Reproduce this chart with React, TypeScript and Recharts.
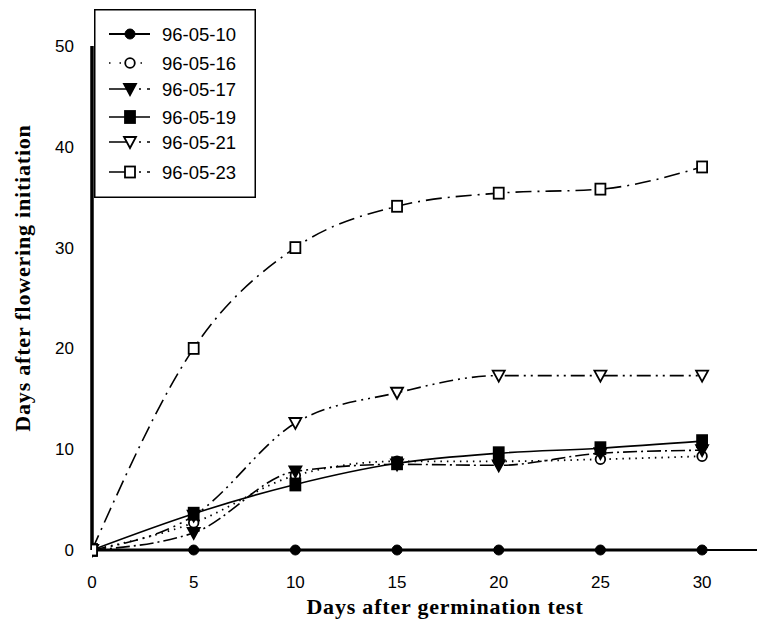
import { LineChart, Line, XAxis, YAxis, Legend, Label } from 'recharts';

// days after germination test (x) vs days after flowering initiation (y)
const days = [0, 5, 10, 15, 20, 25, 30];
const xTicks = [0, 5, 10, 15, 20, 25, 30];
const yTicks = [0, 10, 20, 30, 40, 50];

const s0510 = [0, 0, 0, 0, 0, 0, 0];
const s0516 = [0, 2.7, 7.4, 8.8, 8.8, 9.0, 9.3];
const s0517 = [0, 1.7, 7.8, 8.5, 8.4, 9.6, 9.9];
const s0519 = [0, 3.6, 6.5, 8.6, 9.6, 10.1, 10.8];
const s0521 = [0, 3.4, 12.6, 15.6, 17.3, 17.3, 17.3];
const s0523 = [0, 20.0, 30.0, 34.1, 35.4, 35.8, 38.0];

type Shape = 'circleFilled' | 'circleOpen' | 'triFilled' | 'squareFilled' | 'triOpen' | 'squareOpen';

const series: { key: string; name: string; values: number[]; shape: Shape; dash?: string; width: number }[] = [
  { key: 'a', name: '96-05-10', values: s0510, shape: 'circleFilled', width: 3 },
  { key: 'b', name: '96-05-16', values: s0516, shape: 'circleOpen', dash: '1.5 5', width: 1.8 },
  { key: 'c', name: '96-05-17', values: s0517, shape: 'triFilled', dash: '14 4 2 4', width: 1.6 },
  { key: 'd', name: '96-05-19', values: s0519, shape: 'squareFilled', width: 1.6 },
  { key: 'e', name: '96-05-21', values: s0521, shape: 'triOpen', dash: '14 5 2 5 2 5', width: 1.6 },
  { key: 'f', name: '96-05-23', values: s0523, shape: 'squareOpen', dash: '16 6 2 6', width: 1.6 },
];

// drawing order: the filled squares sit on top of the open triangles at day 5
const drawOrder = ['a', 'b', 'c', 'e', 'd', 'f'];

const data = days.map((d, i) => {
  const row: Record<string, number> = { day: d };
  series.forEach((s) => (row[s.key] = s.values[i]));
  return row;
});

function marker(shape: Shape, cx: number, cy: number) {
  const k = { stroke: '#000', strokeWidth: 1.8 };
  switch (shape) {
    case 'circleFilled':
      return <circle cx={cx} cy={cy} r={5} fill="#000" stroke="#000" />;
    case 'circleOpen':
      return <circle cx={cx} cy={cy} r={4.8} fill="#fff" {...k} />;
    case 'triFilled':
      return <path d={`M${cx - 6},${cy - 5} L${cx + 6},${cy - 5} L${cx},${cy + 6} Z`} fill="#000" {...k} />;
    case 'squareFilled':
      return <rect x={cx - 5} y={cy - 6} width={10} height={12} fill="#000" {...k} />;
    case 'triOpen':
      return <path d={`M${cx - 6},${cy - 5} L${cx + 6},${cy - 5} L${cx},${cy + 6} Z`} fill="#fff" {...k} />;
    case 'squareOpen':
      return <rect x={cx - 5} y={cy - 5.5} width={10} height={11} fill="#fff" {...k} />;
  }
}

const tickStyle = { fontFamily: '"Liberation Sans", Arial, sans-serif', fontSize: 17, fill: '#000' };
const titleStyle = {
  fontFamily: '"Liberation Serif", "Times New Roman", serif',
  fontSize: 22,
  fontWeight: 700,
  letterSpacing: 0.8,
  fill: '#000',
};

function LegendBox() {
  const rows = [25, 54, 80, 108, 133, 163];
  return (
    <svg width={162} height={189}>
      <rect x={0.75} y={0.75} width={160.5} height={187.5} fill="#fff" stroke="#000" strokeWidth={1.5} />
      {series.map((s, i) => (
        <g key={s.key}>
          <line x1={15} x2={56} y1={rows[i]} y2={rows[i]} stroke="#000" strokeWidth={s.key === 'a' ? 2 : 1.6} strokeDasharray={s.dash ? (s.key === 'b' ? '1.5 9' : '24 6 2 6') : undefined} />
          {marker(s.shape, 36, rows[i])}
          <text x={68} y={rows[i]} dominantBaseline="central" style={{ ...tickStyle, fontSize: 18.5 }}>
            {s.name}
          </text>
        </g>
      ))}
    </svg>
  );
}

export default function App() {
  return (
    <div style={{ position: 'absolute', left: 0, top: 0, background: '#fff' }}>
      <LineChart width={767} height={633} data={data} margin={{ top: 46, right: 10, left: 0, bottom: 0 }}>
        <XAxis
          dataKey="day"
          type="number"
          domain={[0, 32.7]}
          ticks={xTicks}
          allowDataOverflow
          height={83}
          tickLine={false}
          tickSize={0}
          tickMargin={26}
          tick={tickStyle}
          axisLine={{ stroke: '#000', strokeWidth: 2 }}
        >
          <Label
            content={() => (
              <text x={445} y={614} textAnchor="middle" style={titleStyle}>
                Days after germination test
              </text>
            )}
          />
        </XAxis>
        <YAxis
          type="number"
          domain={[0, 50]}
          ticks={yTicks}
          width={92}
          tickLine={false}
          tickSize={0}
          tickMargin={18}
          tick={tickStyle}
          axisLine={{ stroke: '#000', strokeWidth: 3.5 }}
        >
          <Label
            content={() => (
              <text x={22} y={278} textAnchor="middle" dominantBaseline="central" transform="rotate(-90, 22, 278)" style={titleStyle}>
                Days after flowering initiation
              </text>
            )}
          />
        </YAxis>
        <Legend
          layout="vertical"
          align="center"
          verticalAlign="middle"
          wrapperStyle={{ position: 'absolute', left: 94, top: 9, width: 162, height: 189 }}
          content={() => <LegendBox />}
        />
        {drawOrder
          .map((k) => series.find((s) => s.key === k)!)
          .map((s) => (
            <Line
              key={s.key}
              dataKey={s.key}
              name={s.name}
              type="monotone"
              stroke="#000"
              strokeWidth={s.width}
              strokeDasharray={s.dash}
              isAnimationActive={false}
              dot={(p: any) => <g key={`${s.key}-${p.index}`}>{marker(s.shape, p.cx, p.cy)}</g>}
              activeDot={false}
            />
          ))}
      </LineChart>
    </div>
  );
}
